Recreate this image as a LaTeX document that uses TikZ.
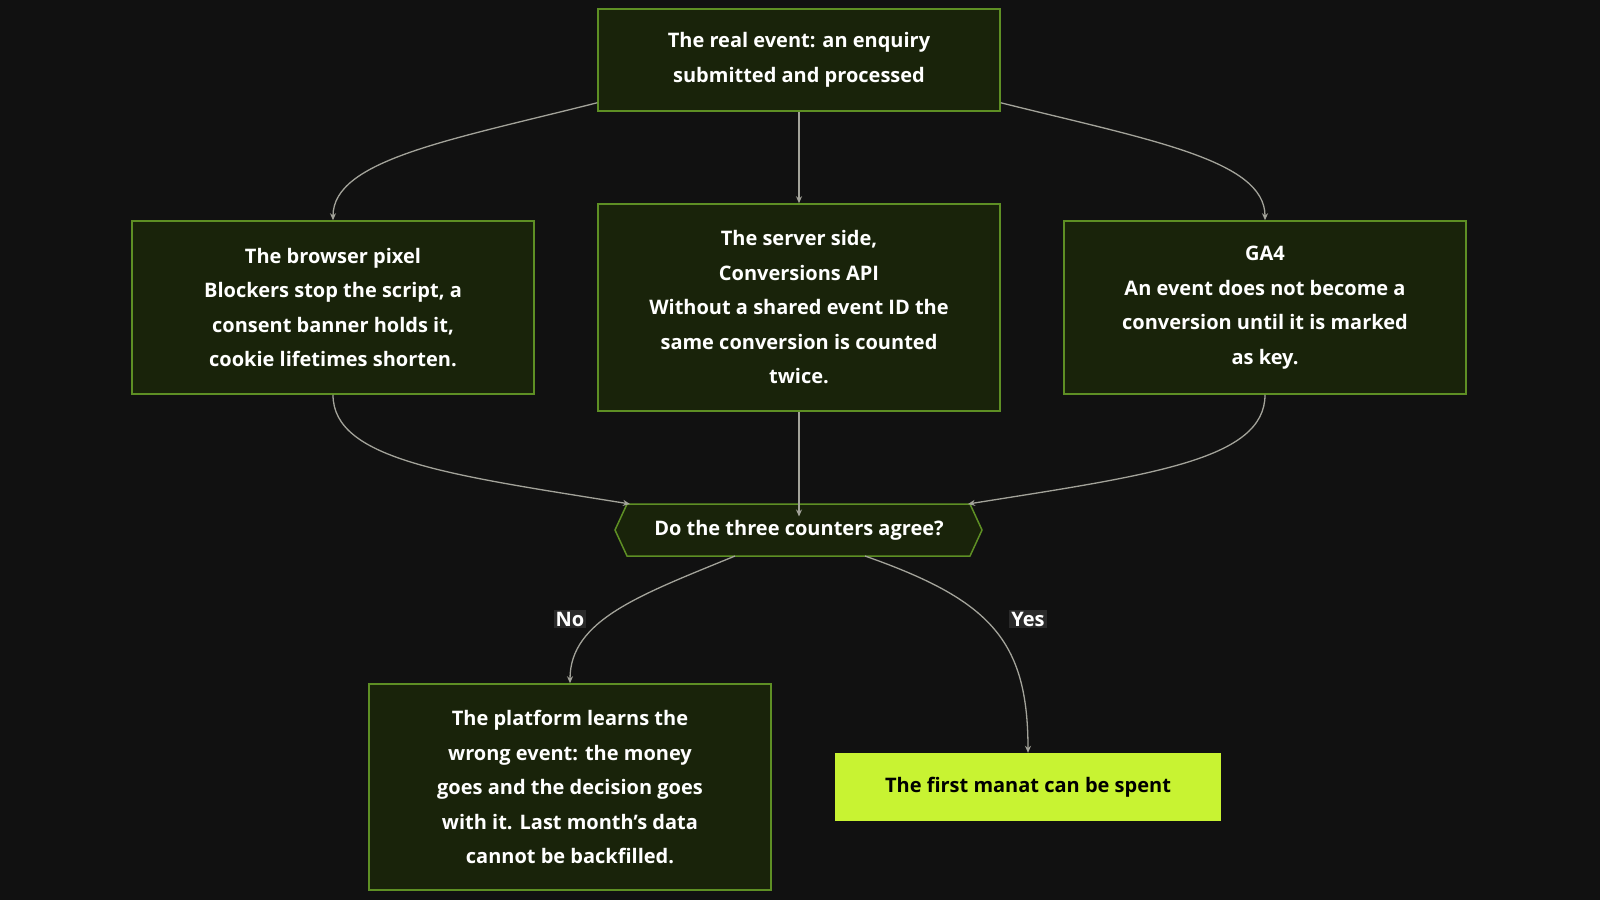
\documentclass[tikz,border=0pt]{standalone}
\usepackage{fontspec}
\setmainfont{Open Sans}[BoldFont={Open Sans Bold}]
\usetikzlibrary{shapes.geometric,arrows.meta}
\definecolor{bg}{HTML}{111111}
\definecolor{boxfill}{HTML}{19230A}
\definecolor{boxline}{HTML}{5E8F24}
\definecolor{edge}{HTML}{A3A39A}
\definecolor{lime}{HTML}{C8F332}
\definecolor{lblbg}{HTML}{2A2A2A}
\begin{document}
\begin{tikzpicture}[x=1pt,y=-1pt,
  box/.style={draw=boxline,line width=1.5pt,fill=boxfill,text=white,font=\bfseries\fontsize{20}{34.5}\selectfont,align=center,inner sep=0pt},
  ar/.style={draw=edge,line width=1.3pt,-{Stealth[length=7pt,width=6pt]}},
  lbl/.style={fill=lblbg,text=white,font=\bfseries\fontsize{20}{24}\selectfont,inner sep=2pt}]
\fill[bg] (0,0) rectangle (1600,900);
\node[box,minimum width=402,minimum height=102] (top) at (799,60) {The real event: an enquiry\\submitted and processed};
\node[box,minimum width=402,minimum height=173] (br) at (333,307.5) {The browser pixel\\Blockers stop the script, a\\consent banner holds it,\\cookie lifetimes shorten.};
\node[box,minimum width=402,minimum height=207] (sv) at (799,307.5) {The server side,\\Conversions API\\Without a shared event ID the\\same conversion is counted\\twice.};
\node[box,minimum width=402,minimum height=173] (ga) at (1265,307.5) {GA4\\An event does not become a\\conversion until it is marked\\as key.};
\node[box,minimum width=402,minimum height=206] (no) at (570,787) {The platform learns the\\wrong event: the money\\goes and the decision goes\\with it. Last month's data\\cannot be backfilled.};
\node[fill=lime,text=black,font=\bfseries\fontsize{20}{34}\selectfont,minimum width=386,minimum height=68,inner sep=0pt] (yes) at (1028,787) {The first manat can be spent};
\path[draw=boxline,line width=1.5pt,fill=boxfill] (627,504) -- (970,504) -- (982,530) -- (970,556) -- (627,556) -- (615,530) -- cycle;
\node[text=white,font=\bfseries\fontsize{20}{34}\selectfont] (q) at (799,530) {Do the three counters agree?};
\coordinate (qnw) at (630,504); \coordinate (qne) at (968,504);
\coordinate (qsw) at (735,556); \coordinate (qse) at (865,556);
\draw[ar] (top.south) -- (sv.north);
\draw[ar] ([yshift=9]top.south west) .. controls (450,140) and (333,160) .. (br.north);
\draw[ar] ([yshift=9]top.south east) .. controls (1150,140) and (1265,160) .. (ga.north);
\draw[ar] (sv.south) -- (q.north);
\draw[ar] (br.south) .. controls (333,460) and (450,475) .. (qnw);
\draw[ar] (ga.south) .. controls (1265,460) and (1150,475) .. (qne);
\draw[ar] (qsw) .. controls (640,595) and (570,620) .. (no.north);
\draw[ar] (qse) .. controls (990,600) and (1028,640) .. (yes.north);
\node[lbl] at (570,619) {No};
\node[lbl] at (1028,619) {Yes};
\end{tikzpicture}
\end{document}
